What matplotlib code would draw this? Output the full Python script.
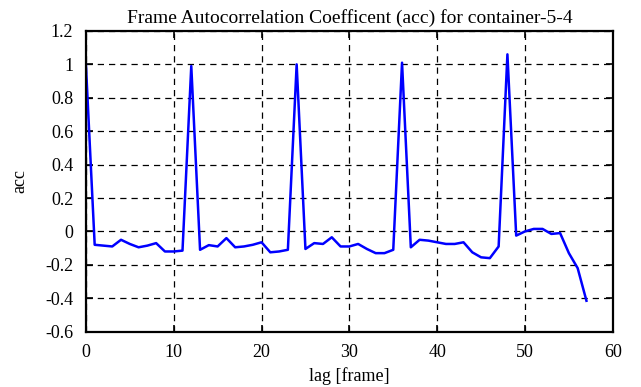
import numpy as np
import matplotlib
matplotlib.use("Agg")
import matplotlib.pyplot as plt

# autocorrelation values, one per lag
lags = list(range(58))
acc = [1.0, -0.08, -0.085, -0.09, -0.05, -0.075, -0.095, -0.085, -0.07, -0.12,
       -0.12, -0.115, 0.99, -0.11, -0.082, -0.09, -0.04, -0.095, -0.09, -0.08,
       -0.065, -0.125, -0.12, -0.11, 1.0, -0.105, -0.07, -0.075, -0.035, -0.09,
       -0.09, -0.075, -0.105, -0.13, -0.13, -0.11, 1.01, -0.095, -0.05, -0.055,
       -0.065, -0.075, -0.075, -0.065, -0.125, -0.155, -0.16, -0.09, 1.06, -0.025,
       0.0, 0.015, 0.015, -0.015, -0.01, -0.13, -0.22, -0.415]

xticks = [0, 10, 20, 30, 40, 50, 60]
yticks = [-0.6, -0.4, -0.2, 0, 0.2, 0.4, 0.6, 0.8, 1, 1.2]
ytick_labels = ['-0.6', '-0.4', '-0.2', '0', '0.2', '0.4', '0.6', '0.8', '1', '1.2']

plt.rcParams['font.family'] = ['Liberation Serif', 'DejaVu Serif']
plt.rcParams['font.size'] = 13

fig = plt.figure(figsize=(6.41, 3.87), dpi=100)
ax = fig.add_axes([0.134, 0.143, 0.822, 0.777])
ax.plot(lags, acc, color='#0000ff', lw=1.8)

ax.set_xlim(0, 60)
ax.set_ylim(-0.6, 1.2)
ax.set_xticks(xticks)
ax.set_yticks(yticks)
ax.set_yticklabels(ytick_labels)
ax.grid(True, color='black', linestyle=(0, (5, 4)), lw=0.9)
ax.tick_params(direction='in', top=True, right=True, length=5, width=1.2)
ax.tick_params(axis='y', pad=9)
ax.tick_params(axis='x', pad=9)
for s in ax.spines.values():
    s.set_linewidth(1.6)

ax.set_xlabel('lag [frame]', labelpad=4)
ax.set_ylabel('acc', labelpad=12)
ax.set_title('Frame Autocorrelation Coefficent (acc) for container-5-4', fontsize=14, pad=6)

fig.savefig('out.png', dpi=100)
